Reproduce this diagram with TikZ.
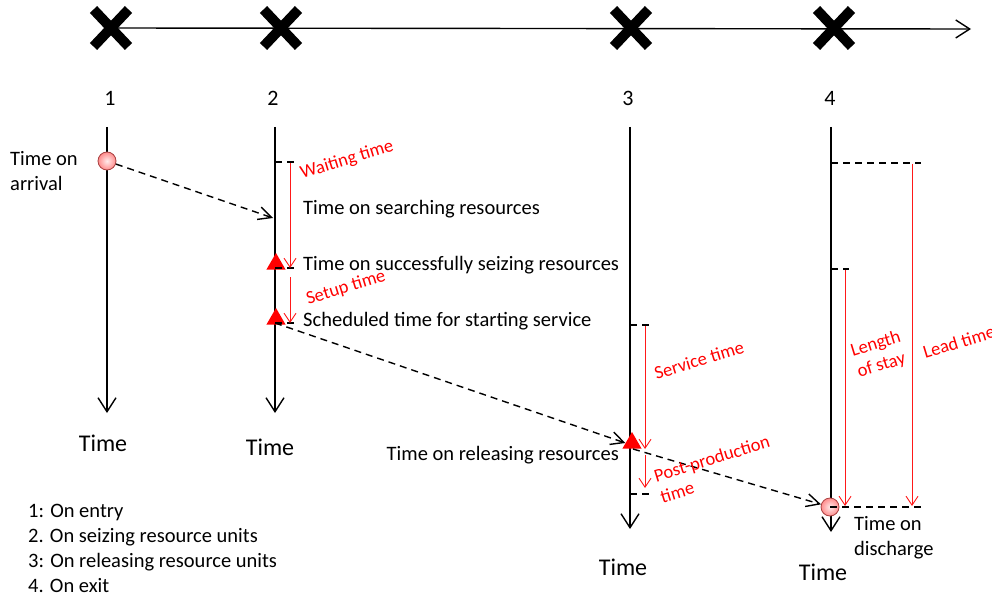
\documentclass[tikz,border=0pt]{standalone}
\usepackage{fontspec}
\setmainfont{Carlito}
\usetikzlibrary{shapes.misc,shapes.geometric,arrows.meta}
\tikzstyle{cross} = [cross out, draw, line width=10pt, minimum width=25pt, minimum height=27pt, inner sep=0pt]
\tikzstyle{num} = [font=\fontsize{22}{26}\selectfont]
\tikzstyle{timelabel} = [font=\fontsize{24}{28}\selectfont]
\tikzstyle{txt} = [font=\fontsize{20.5}{25}\selectfont, align=left, inner sep=0pt]
\tikzstyle{redtxt} = [text=red, font=\fontsize{18.5}{22}\selectfont, rotate=17, align=left, inner sep=0pt]
\tikzstyle{axis} = [draw, line width=1.4pt, -{Straight Barb[length=14pt,width=18pt]}]
\tikzstyle{line} = [draw, dash pattern=on 7pt off 5pt, line width=1.4pt, -{Straight Barb[length=13pt,width=13pt]}]
\tikzstyle{redline} = [draw=red!90, line width=0.9pt, -{Straight Barb[length=9pt,width=12pt]}]
\tikzstyle{tick} = [draw, dash pattern=on 7pt off 5pt, line width=1.3pt]
\tikzstyle{event} = [circle, draw=red!55!black!75, line width=0.8pt, inner color=red!8, outer color=red!45, minimum size=18pt, inner sep=0pt]
\tikzstyle{seize} = [regular polygon, regular polygon sides=3, fill=red, minimum size=22pt, inner sep=0pt]

\begin{document}
\begin{tikzpicture}[x=1pt,y=-1pt]
\useasboundingbox (0,0) rectangle (992,596);

% top axis with the four events
\coordinate (axisend) at (971,29);
\node [cross] (x1) at (111,28) {};
\node [cross] (x2) at (281,28) {};
\node [cross] (x3) at (631,28) {};
\node [cross] (x4) at (834,28) {};
\path [axis] (x1.center) -- (axisend);

\node [num] (n1) at (110,98) {1};
\node [num] (n2) at (273,98) {2};
\node [num] (n3) at (628,98) {3};
\node [num] (n4) at (830,98) {4};

% time lines
\coordinate (t1top) at (107,127); \coordinate (t1end) at (107,413);
\coordinate (t2top) at (275,127); \coordinate (t2end) at (275,413);
\coordinate (t3top) at (630,127); \coordinate (t3end) at (630,529);
\coordinate (t4top) at (831,127); \coordinate (t4end) at (831,532);
\path [axis] (t1top) -- (t1end);
\path [axis] (t2top) -- (t2end);
\path [axis] (t3top) -- (t3end);
\path [axis] (t4top) -- (t4end);

\node [timelabel] (time1) at (103,443) {Time};
\node [timelabel] (time2) at (270,447) {Time};
\node [timelabel] (time3) at (623,567) {Time};
\node [timelabel] (time4) at (823,572) {Time};

% events on the lines
\node [event] (arrival) at (107,161) {};
\node [txt, anchor=west] (arrivaltxt) at (10,171) {Time on\\arrival};
\coordinate (search) at (273,218);
\node [seize] (seized) at (276,264) {};
\node [seize] (scheduled) at (276,319) {};
\node [seize] (released) at (632,443) {};
\node [event] (discharge) at (830,507) {};

\node [txt, anchor=west] (searchtxt) at (303,209) {Time on searching resources};
\node [txt, anchor=west] (seizedtxt) at (303,265) {Time on successfully seizing resources};
\node [txt, anchor=west] (scheduledtxt) at (303,321) {Scheduled time for starting service};
\node [txt, anchor=east] (releasedtxt) at (619,455) {Time on releasing resources};
\node [txt, anchor=west] (dischargetxt) at (854,538) {Time on\\discharge};

% ticks
\coordinate (a1) at (275,162); \coordinate (a2) at (294,162);
\coordinate (b1) at (275,268); \coordinate (b2) at (294,268);
\coordinate (c1) at (275,323); \coordinate (c2) at (294,323);
\coordinate (d1) at (630,325); \coordinate (d2) at (650,325);
\coordinate (e1) at (630,494); \coordinate (e2) at (650,494);
\coordinate (f1) at (831,163); \coordinate (f2) at (921,163);
\coordinate (g1) at (831,269); \coordinate (g2) at (849,269);
\coordinate (h2) at (921,507);
\path [tick] (a1) -- (a2);
\path [tick] (b1) -- (b2);
\path [tick] (c1) -- (c2);
\path [tick] (d1) -- (d2);
\path [tick] (e1) -- (e2);
\path [tick] (f1) -- (f2);
\path [tick] (g1) -- (g2);
\path [tick] (discharge.center) -- (h2);

% dashed flow of the entity
\coordinate (releasept) at (633,449);
\path [line] (arrival) -- (search);
\path [line] (c1) -- (released.west);
\path [line] (releasept) -- (discharge);

% durations
\coordinate (w1) at (290,163); \coordinate (w2) at (290,268);
\coordinate (s1) at (290,277); \coordinate (s2) at (290,323);
\coordinate (v1) at (645,326); \coordinate (v2) at (645,449);
\coordinate (p1) at (645,455); \coordinate (p2) at (645,488);
\coordinate (l1) at (845,270); \coordinate (l2) at (845,506);
\coordinate (m1) at (912,164); \coordinate (m2) at (912,506);
\path [redline] (w1) -- (w2);
\path [redline] (s1) -- (s2);
\path [redline] (v1) -- (v2);
\path [redline] (p1) -- (p2);
\path [redline] (l1) -- (l2);
\path [redline] (m1) -- (m2);

\node [redtxt] (waiting) at (347,160) {Waiting time};
\node [redtxt] (setup) at (346,288) {Setup time};
\node [redtxt] (service) at (699,360) {Service time};
\node [redtxt] (post) at (715,469) {Post-production\\time};
\node [redtxt] (stay) at (879,355) {Length\\of stay};
\node [redtxt] (lead) at (959,342) {Lead time};

% legend
\node [txt, anchor=west] (legend) at (28,548) {1: On entry\\2. On seizing resource units\\3: On releasing resource units\\4. On exit};

\end{tikzpicture}
\end{document}
